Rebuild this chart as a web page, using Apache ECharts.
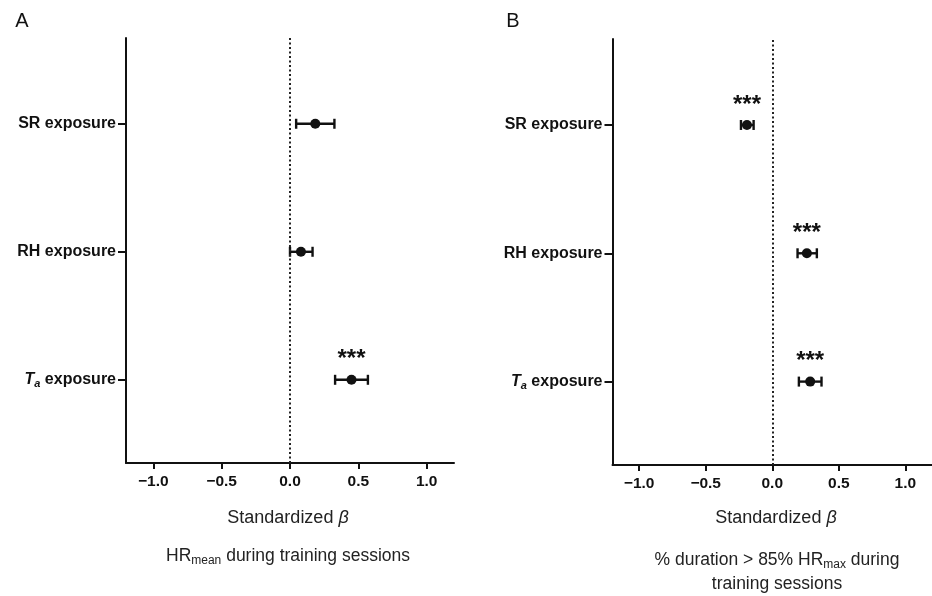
<!DOCTYPE html>
<html>
<head>
<meta charset="utf-8">
<script src="https://cdn.jsdelivr.net/npm/echarts@6/dist/echarts.min.js"></script>
<style>
html,body{margin:0;padding:0;background:#fff;}
#chart{width:932px;height:596px;}
</style>
</head>
<body>
<div id="chart"></div>
<script>
// ---- data ----
var categories = ['SR exposure', 'RH exposure', 'Ta exposure'];
var categoryPos = [3, 2, 1];
var xTicks = [-1.0, -0.5, 0.0, 0.5, 1.0];

var panelA_beta = [0.185, 0.08, 0.45];
var panelA_lo   = [0.045, 0.0, 0.33];
var panelA_hi   = [0.325, 0.165, 0.57];
var panelA_sig  = ['', '', '***'];

var panelB_beta = [-0.19, 0.26, 0.285];
var panelB_lo   = [-0.235, 0.19, 0.20];
var panelB_hi   = [-0.14, 0.335, 0.37];
var panelB_sig  = ['***', '***', '***'];

// ---- styling ----
var FONT = '"Liberation Sans", Arial, Helvetica, sans-serif';
var INK = '#111';

function catLabel(v) {
  var i = categoryPos.indexOf(Math.round(v));
  if (i < 0) return '';
  var c = categories[i];
  if (c.indexOf('Ta') === 0) return '{it|T}{sub|a}{b| exposure}';
  return '{b|' + c + '}';
}
function tickLabel(v) {
  var s = Math.abs(v).toFixed(1);
  return v < 0 ? '\u2212' + s : s;
}

function yAxisFor(gi) {
  return {
    gridIndex: gi, type: 'value', min: 0.35, max: 3.67,
    axisLine: { show: true, onZero: false, lineStyle: { color: INK, width: 2 } },
    axisTick: { show: true, customValues: categoryPos, length: 8, lineStyle: { color: INK, width: 2 } },
    axisLabel: {
      customValues: categoryPos, margin: 10, formatter: catLabel,
      rich: {
        b: { fontFamily: FONT, fontWeight: 'bold', fontSize: 16, color: INK, lineHeight: 22 },
        it: { fontFamily: FONT, fontWeight: 'bold', fontStyle: 'italic', fontSize: 16, color: INK, lineHeight: 22 },
        sub: { fontFamily: FONT, fontWeight: 'bold', fontStyle: 'italic', fontSize: 11, color: INK, lineHeight: 22, padding: [8, 0, 0, 0] }
      }
    },
    splitLine: { show: false }
  };
}
function xAxisFor(gi) {
  return {
    gridIndex: gi, type: 'value', min: -1.2, max: 1.2,
    axisLine: { show: true, onZero: false, lineStyle: { color: INK, width: 2 } },
    axisTick: { show: true, customValues: xTicks, length: 6, lineStyle: { color: INK, width: 2 } },
    axisLabel: {
      customValues: xTicks, margin: 11, formatter: tickLabel,
      fontFamily: FONT, fontWeight: 'bold', fontSize: 15.5, color: INK
    },
    splitLine: { show: false }
  };
}

function pointsData(beta, sig) {
  return beta.map(function (b, i) { return { value: [b, categoryPos[i]], sig: sig[i] }; });
}
function errData(lo, hi) {
  return lo.map(function (l, i) { return [l, hi[i], categoryPos[i]]; });
}
function renderErr(params, api) {
  var y = api.value(2);
  var p1 = api.coord([api.value(0), y]);
  var p2 = api.coord([api.value(1), y]);
  var h = 5;
  var st = { stroke: INK, lineWidth: 2.4 };
  return {
    type: 'group',
    children: [
      { type: 'line', shape: { x1: p1[0], y1: p1[1], x2: p2[0], y2: p2[1] }, style: st },
      { type: 'line', shape: { x1: p1[0], y1: p1[1] - h, x2: p1[0], y2: p1[1] + h }, style: st },
      { type: 'line', shape: { x1: p2[0], y1: p2[1] - h, x2: p2[0], y2: p2[1] + h }, style: st }
    ]
  };
}
function seriesFor(gi, beta, lo, hi, sig) {
  return [
    {
      type: 'custom', xAxisIndex: gi, yAxisIndex: gi,
      data: errData(lo, hi), renderItem: renderErr, silent: true, z: 3,
      encode: { x: [0, 1], y: 2 }
    },
    {
      type: 'scatter', xAxisIndex: gi, yAxisIndex: gi,
      data: pointsData(beta, sig), symbol: 'circle', symbolSize: 10,
      itemStyle: { color: INK, opacity: 1 }, z: 4, silent: true,
      label: {
        show: true, position: 'top', distance: 3,
        formatter: function (p) { return p.data.sig; },
        fontFamily: FONT, fontSize: 24, fontWeight: 'bold', color: INK
      },
      markLine: {
        silent: true, symbol: 'none', label: { show: false },
        lineStyle: { color: '#222', type: [2, 2.5], width: 2, opacity: 1 },
        emphasis: { disabled: true },
        data: [{ xAxis: 0 }], animation: false
      }
    }
  ];
}

var chart = echarts.init(document.getElementById('chart'), null, { renderer: 'canvas' });
var subRich = {
  n: { fontFamily: FONT, fontSize: 17.5, fill: '#222' },
  s: { fontFamily: FONT, fontSize: 12, fill: '#222', padding: [9, 0, 0, 0] }
};
chart.setOption({
  animation: false,
  grid: [
    { left: 126, width: 328, top: 38, height: 425 },
    { left: 612.5, width: 328, top: 39, height: 426 }
  ],
  xAxis: [xAxisFor(0), xAxisFor(1)],
  yAxis: [yAxisFor(0), yAxisFor(1)],
  series: seriesFor(0, panelA_beta, panelA_lo, panelA_hi, panelA_sig)
    .concat(seriesFor(1, panelB_beta, panelB_lo, panelB_hi, panelB_sig)),
  graphic: [
    { type: 'text', x: 22, y: 21, style: { text: 'A', font: '20px ' + FONT, fill: INK, align: 'center', verticalAlign: 'middle' } },
    { type: 'text', x: 513, y: 21, style: { text: 'B', font: '20px ' + FONT, fill: INK, align: 'center', verticalAlign: 'middle' } },
    { type: 'text', x: 288, y: 518, style: { text: 'Standardized {it|\u03b2}', align: 'center', verticalAlign: 'middle',
      rich: { it: { fontFamily: FONT, fontSize: 18, fontStyle: 'italic', fill: '#222' } }, font: '18px ' + FONT, fill: '#222' } },
    { type: 'text', x: 776, y: 518, style: { text: 'Standardized {it|\u03b2}', align: 'center', verticalAlign: 'middle',
      rich: { it: { fontFamily: FONT, fontSize: 18, fontStyle: 'italic', fill: '#222' } }, font: '18px ' + FONT, fill: '#222' } },
    { type: 'text', x: 288, y: 556, style: { text: '{n|HR}{s|mean}{n| during training sessions}', align: 'center', verticalAlign: 'middle', rich: subRich } },
    { type: 'text', x: 777, y: 560, style: { text: '{n|% duration > 85% HR}{s|max}{n| during}', align: 'center', verticalAlign: 'middle', rich: subRich } },
    { type: 'text', x: 777, y: 584, style: { text: '{n|training sessions}', align: 'center', verticalAlign: 'middle', rich: subRich } }
  ]
});
</script>
</body>
</html>
